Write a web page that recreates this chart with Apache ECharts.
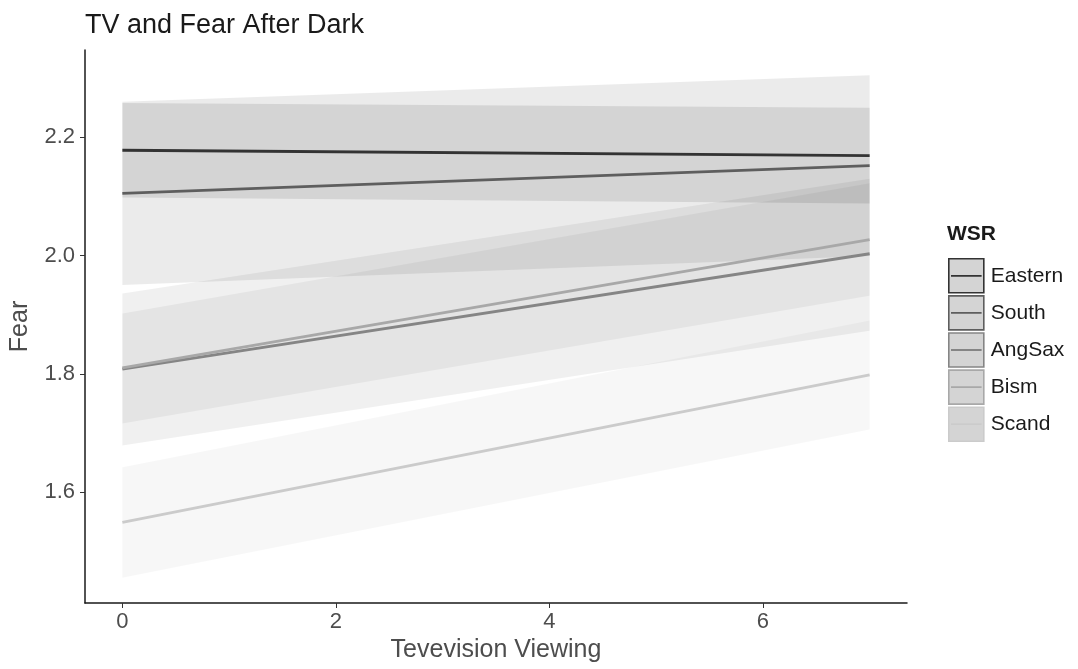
<!DOCTYPE html>
<html>
<head>
<meta charset="utf-8">
<script src="https://cdn.jsdelivr.net/npm/echarts@6/dist/echarts.min.js"></script>
<style>
  html, body { margin: 0; padding: 0; background: #fff; }
  #chart { width: 1078px; height: 669px; }
</style>
</head>
<body>
<div id="chart"></div>
<script>
// fitted lines and confidence bands, read at x = 0 and x = 7
const groups = ["Eastern", "South", "AngSax", "Bism", "Scand"];
const xEnds = [0, 7];

const fitEastern = [2.178, 2.169];
const lowEastern = [2.098, 2.088];
const highEastern = [2.258, 2.250];

const fitSouth = [2.105, 2.152];
const lowSouth = [1.950, 1.999];
const highSouth = [2.260, 2.305];

const fitAngSax = [1.808, 2.003];
const lowAngSax = [1.679, 1.873];
const highAngSax = [1.936, 2.130];

const fitBism = [1.810, 2.027];
const lowBism = [1.716, 1.932];
const highBism = [1.902, 2.122];

const fitScand = [1.549, 1.798];
const lowScand = [1.455, 1.706];
const highScand = [1.642, 1.890];

const xTicks = [0, 2, 4, 6];
const yTicks = [1.6, 1.8, 2.0, 2.2];

const fits = [fitEastern, fitSouth, fitAngSax, fitBism, fitScand];
const lows = [lowEastern, lowSouth, lowAngSax, lowBism, lowScand];
const highs = [highEastern, highSouth, highAngSax, highBism, highScand];

const lineColors = ["#333333", "#5e5e5e", "#858585", "#a8a8a8", "#cbcbcb"];
const bandColors = [
  "rgba(0,0,0,0.094)",
  "rgba(0,0,0,0.08)",
  "rgba(0,0,0,0.06)",
  "rgba(0,0,0,0.046)",
  "rgba(0,0,0,0.03)"
];

const chart = echarts.init(document.getElementById("chart"), null, { renderer: "canvas" });

const bandSeries = groups.map((g, i) => ({
  name: g,
  type: "custom",
  z: 1,
  silent: true,
  data: [[xEnds[0], xEnds[1], lows[i][0], lows[i][1], highs[i][0], highs[i][1]]],
  encode: { x: [0, 1], y: [2, 3, 4, 5] },
  renderItem: (params, api) => {
    const a = api.coord([api.value(0), api.value(2)]);
    const b = api.coord([api.value(1), api.value(3)]);
    const c = api.coord([api.value(1), api.value(5)]);
    const d = api.coord([api.value(0), api.value(4)]);
    return {
      type: "polygon",
      shape: { points: [a, b, c, d] },
      style: { fill: bandColors[i], stroke: null }
    };
  }
}));

const lineSeries = groups.map((g, i) => ({
  name: g,
  type: "line",
  z: 3,
  showSymbol: false,
  silent: true,
  data: xEnds.map((x, k) => [x, fits[i][k]]),
  lineStyle: { color: lineColors[i], width: 2.8 },
  itemStyle: { color: lineColors[i] }
}));

const option = {
  backgroundColor: "#fff",
  animation: false,
  title: [
    {
      text: "TV and Fear After Dark",
      left: 80,
      top: 7,
      textStyle: { fontFamily: "Liberation Sans", fontSize: 27, fontWeight: "normal", color: "#1a1a1a" }
    },
    {
      text: "WSR",
      left: 942,
      top: 219,
      textStyle: { fontFamily: "Liberation Sans", fontSize: 21, fontWeight: "bold", color: "#1a1a1a" }
    }
  ],
  legend: {
    orient: "vertical",
    left: 943,
    top: 253,
    itemWidth: 35,
    itemHeight: 34,
    itemGap: 1.5,
    selectedMode: false,
    textStyle: { fontFamily: "Liberation Sans", fontSize: 21, color: "#1a1a1a", padding: [0, 0, 0, 2] },
    data: groups.map((g, i) => ({
      name: g,
      icon: "path://M0,0H35V34H0Z M3,16.9H32V17.1H3Z",
      itemStyle: { color: "#d4d4d4", borderColor: lineColors[i], borderWidth: 1.6 }
    }))
  },
  grid: { left: 82, right: 171, top: 50, bottom: 66, containLabel: false },
  xAxis: {
    type: "value",
    min: -0.35,
    max: 7.35,
    name: "Tevevision Viewing",
    nameLocation: "middle",
    nameGap: 35,
    nameTextStyle: { fontFamily: "Liberation Sans", fontSize: 25, color: "#4d4d4d" },
    axisLine: { show: true, onZero: false, lineStyle: { color: "#1a1a1a", width: 1.5 } },
    axisTick: { show: true, length: 5, customValues: xTicks, lineStyle: { color: "#333", width: 1 } },
    axisLabel: {
      customValues: xTicks,
      margin: 8,
      fontFamily: "Liberation Sans",
      fontSize: 22,
      color: "#4d4d4d"
    },
    splitLine: { show: false }
  },
  yAxis: {
    type: "value",
    min: 1.4125,
    max: 2.3475,
    name: "Fear",
    nameLocation: "middle",
    nameGap: 52,
    nameTextStyle: { fontFamily: "Liberation Sans", fontSize: 25, color: "#4d4d4d" },
    axisLine: { show: true, onZero: false, lineStyle: { color: "#1a1a1a", width: 1.5 } },
    axisTick: { show: true, length: 5, customValues: yTicks, lineStyle: { color: "#333", width: 1 } },
    axisLabel: {
      customValues: yTicks,
      margin: 10,
      fontFamily: "Liberation Sans",
      fontSize: 22,
      color: "#4d4d4d",
      formatter: (v) => v.toFixed(1)
    },
    splitLine: { show: false }
  },
  series: bandSeries.concat(lineSeries)
};

chart.setOption(option);
</script>
</body>
</html>
